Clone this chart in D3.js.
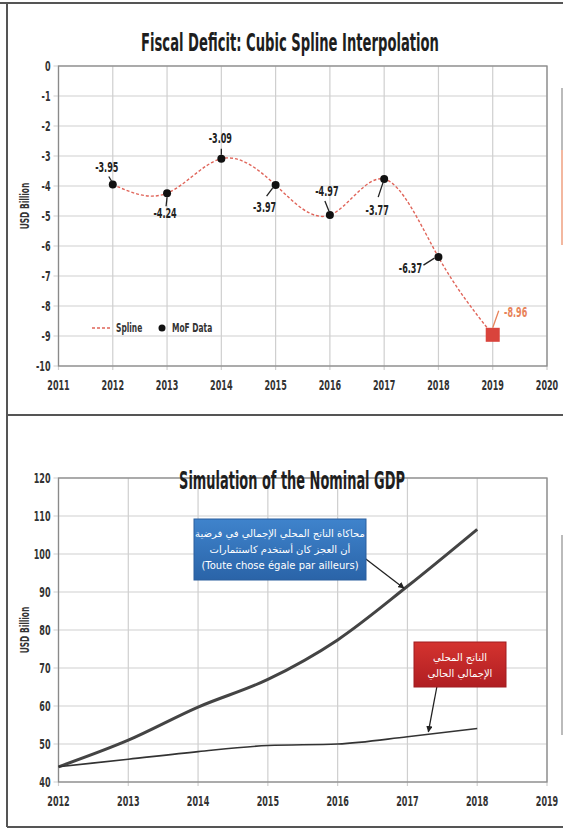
<!DOCTYPE html>
<html>
<head>
<meta charset="utf-8">
<script src="https://cdn.jsdelivr.net/npm/d3@7"></script>
<style>
  body { margin: 0; background: #fff; }
  text { font-family: "DejaVu Sans Condensed", "DejaVu Sans", sans-serif; }
</style>
</head>
<body>
<script>
// ---- data ----
var deficitYears = [2012, 2013, 2014, 2015, 2016, 2017, 2018, 2019]
var deficitValues = [-3.95, -4.24, -3.09, -3.97, -4.97, -3.77, -6.37, -8.96]
var deficitTicks = [0, -1, -2, -3, -4, -5, -6, -7, -8, -9, -10]
var deficitYearTicks = [2011, 2012, 2013, 2014, 2015, 2016, 2017, 2018, 2019, 2020]

var gdpYears = [2012, 2013, 2014, 2015, 2016, 2017, 2018]
var gdpSimulated = [44, 51, 59.7, 67, 77.4, 91.5, 106.5]
var gdpCurrent = [44, 46, 48, 49.6, 50, 51.9, 54.1]
var gdpTicks = [40, 50, 60, 70, 80, 90, 100, 110, 120]
var gdpYearTicks = [2012, 2013, 2014, 2015, 2016, 2017, 2018, 2019]

// label offsets (px) for the deficit call-outs: [labelDx, labelDy, lineDx1, lineDy1, lineDx2, lineDy2]
var labelOffsets = [
  [-6, -18, -4, -8, -1, -3],
  [-2, 20, -1, 13, 0, 4],
  [-1, -21, 0, -10, 0, -4],
  [-11, 22, -9, 11, -3, 3],
  [-3, -24, -5, -14, -1, -4],
  [-7, 31, -6, 18, -1, 3],
  [-28, 11, -15, 8, -4, 1],
  [23, -23, 6, -24, 0, -7]
]

var W = 563, H = 829
var SX = 0.64   // horizontal squeeze to mimic the condensed face
var svg = d3.select("body").append("svg")
  .attr("width", W).attr("height", H)

// condensed text helper
function ctext(parent, x, y, str, size, anchor, fill) {
  return parent.append("text")
    .attr("transform", "translate(" + x + "," + y + ")scale(" + SX + ",1)")
    .attr("text-anchor", anchor).attr("font-size", size).attr("fill", fill)
    .attr("font-weight", "bold")
    .text(str)
}
// title squeezed to a target width
function title(x, y, str, w) {
  var t = svg.append("text").attr("text-anchor", "middle")
    .attr("font-size", 25).attr("font-weight", "bold").attr("fill", "#1e1e1e")
    .text(str)
  var s = w / t.node().getComputedTextLength()
  t.attr("transform", "translate(" + x + "," + y + ")scale(" + s + ",1)")
}

// frame
svg.append("line").attr("x1", 0).attr("x2", W).attr("y1", 3).attr("y2", 3)
  .attr("stroke", "#555").attr("stroke-width", 2)
svg.append("line").attr("x1", 7).attr("x2", 7).attr("y1", 3).attr("y2", 827)
  .attr("stroke", "#555").attr("stroke-width", 2)
svg.append("line").attr("x1", 7).attr("x2", W).attr("y1", 415).attr("y2", 415)
  .attr("stroke", "#555").attr("stroke-width", 2)
svg.append("line").attr("x1", 7).attr("x2", W).attr("y1", 827).attr("y2", 827)
  .attr("stroke", "#555").attr("stroke-width", 2)

// clipped side strips at the right edge (source notes cut by the photo)
svg.append("rect").attr("x", 561).attr("y", 88).attr("width", 2).attr("height", 62).attr("fill", "#bbb")
svg.append("rect").attr("x", 561).attr("y", 150).attr("width", 2).attr("height", 95).attr("fill", "#f3b8a0")
svg.append("rect").attr("x", 561).attr("y", 535).attr("width", 2).attr("height", 200).attr("fill", "#bbb")

var defs = svg.append("defs")
defs.append("marker").attr("id", "arrow")
  .attr("viewBox", "0 0 10 10").attr("refX", 9).attr("refY", 5)
  .attr("markerWidth", 5).attr("markerHeight", 5).attr("orient", "auto")
  .append("path").attr("d", "M0,0L10,5L0,10z").attr("fill", "#222")
var gBlue = defs.append("linearGradient").attr("id", "blueg").attr("x1", 0).attr("y1", 0).attr("x2", 0).attr("y2", 1)
gBlue.append("stop").attr("offset", "0%").attr("stop-color", "#3f83cc")
gBlue.append("stop").attr("offset", "100%").attr("stop-color", "#2a64a8")
var gRed = defs.append("linearGradient").attr("id", "redg").attr("x1", 0).attr("y1", 0).attr("x2", 0).attr("y2", 1)
gRed.append("stop").attr("offset", "0%").attr("stop-color", "#d4332f")
gRed.append("stop").attr("offset", "100%").attr("stop-color", "#b01e22")

function drawFrame(x, y, xt, yt) {
  var g = svg.append("g")
  var x0 = x.range()[0], x1 = x.range()[1], y0 = y.range()[0], y1 = y.range()[1]
  g.selectAll("vgrid").data(xt).enter().append("line")
    .attr("x1", function(d) { return x(d) }).attr("x2", function(d) { return x(d) })
    .attr("y1", y1).attr("y2", y0 + 4)
    .attr("stroke", "#cfcfcf").attr("stroke-width", 1.2)
  g.selectAll("hgrid").data(yt).enter().append("line")
    .attr("x1", x0 - 5).attr("x2", x1)
    .attr("y1", function(d) { return y(d) }).attr("y2", function(d) { return y(d) })
    .attr("stroke", "#cfcfcf").attr("stroke-width", 1.2)
  g.append("rect").attr("x", x0).attr("y", y1).attr("width", x1 - x0).attr("height", y0 - y1)
    .attr("fill", "none").attr("stroke", "#8a8a8a").attr("stroke-width", 1.3)
  yt.forEach(function(d) { ctext(g, x0 - 8, y(d) + 5, d, 14, "end", "#333") })
  xt.forEach(function(d) { ctext(g, x(d), y0 + 24, d, 14, "middle", "#333") })
  return g
}

// ---------- top chart ----------
var x1 = d3.scaleLinear().domain([2011, 2020]).range([58.5, 547])
var y1 = d3.scaleLinear().domain([-10, 0]).range([366, 66])
drawFrame(x1, y1, deficitYearTicks, deficitTicks)

title(290, 51, "Fiscal Deficit: Cubic Spline Interpolation", 298)
ctext(svg.append("g").attr("transform", "translate(29,206)rotate(-90)"), 0, 0, "USD Billion", 13, "middle", "#333")

var pts = deficitYears.map(function(d, i) { return [d, deficitValues[i]] })
var spline = d3.line().x(function(d) { return x1(d[0]) }).y(function(d) { return y1(d[1]) })
  .curve(d3.curveNatural)
svg.append("path").attr("d", spline(pts))
  .attr("fill", "none").attr("stroke", "#e0655a").attr("stroke-width", 1.4)
  .attr("stroke-dasharray", "3,2")

var last = pts.length - 1
svg.selectAll("mofdots").data(pts.slice(0, last)).enter().append("circle")
  .attr("cx", function(d) { return x1(d[0]) }).attr("cy", function(d) { return y1(d[1]) })
  .attr("r", 4).attr("fill", "#111")
svg.append("rect")
  .attr("x", x1(pts[last][0]) - 7).attr("y", y1(pts[last][1]) - 7)
  .attr("width", 14).attr("height", 14).attr("fill", "#d9443c")

pts.forEach(function(d, i) {
  var o = labelOffsets[i], px = x1(d[0]), py = y1(d[1])
  var red = i === last
  svg.append("line").attr("x1", px + o[2]).attr("y1", py + o[3])
    .attr("x2", px + o[4]).attr("y2", py + o[5])
    .attr("stroke", red ? "#e8835a" : "#222").attr("stroke-width", 1.3)
  ctext(svg, px + o[0], py + o[1] + 5, d[1].toFixed(2), 14, "middle", red ? "#e8835a" : "#222")
})

// legend
var lg = svg.append("g").attr("transform", "translate(92,328)")
lg.append("line").attr("x1", 0).attr("x2", 20).attr("y1", 0).attr("y2", 0)
  .attr("stroke", "#e0655a").attr("stroke-width", 1.4).attr("stroke-dasharray", "3,2")
ctext(lg, 24, 4, "Spline", 13, "start", "#333")
lg.append("circle").attr("cx", 70).attr("cy", 0).attr("r", 3.5).attr("fill", "#111")
ctext(lg, 80, 4, "MoF Data", 13, "start", "#333")

// ---------- bottom chart ----------
var x2 = d3.scaleLinear().domain([2012, 2019]).range([58.5, 547])
var y2 = d3.scaleLinear().domain([40, 120]).range([782, 478])
drawFrame(x2, y2, gdpYearTicks, gdpTicks)

title(292, 489, "Simulation of the Nominal GDP", 226)
ctext(svg.append("g").attr("transform", "translate(29,630)rotate(-90)"), 0, 0, "USD Billion", 13, "middle", "#333")

var gdpLine = d3.line().x(function(d) { return x2(d[0]) }).y(function(d) { return y2(d[1]) })
  .curve(d3.curveMonotoneX)
svg.append("path").attr("d", gdpLine(gdpYears.map(function(d, i) { return [d, gdpSimulated[i]] })))
  .attr("fill", "none").attr("stroke", "#444").attr("stroke-width", 3)
svg.append("path").attr("d", gdpLine(gdpYears.map(function(d, i) { return [d, gdpCurrent[i]] })))
  .attr("fill", "none").attr("stroke", "#333").attr("stroke-width", 1.6)

// blue call-out
svg.append("line").attr("x1", 358).attr("y1", 553).attr("x2", x2(2016.95)).attr("y2", y2(91))
  .attr("stroke", "#222").attr("stroke-width", 1.3).attr("marker-end", "url(#arrow)")
svg.append("rect").attr("x", 194).attr("y", 519).attr("width", 172).attr("height", 61)
  .attr("fill", "url(#blueg)").attr("stroke", "#2a5f9e")
var blueText = ["محاكاة الناتج المحلي الإجمالي في فرضية", "أن العجز كان أستخدم كاستثمارات", "(Toute chose égale par ailleurs)"]
svg.selectAll("bluetxt").data(blueText).enter().append("text")
  .attr("x", 280).attr("y", function(d, i) { return 537 + i * 16 })
  .attr("text-anchor", "middle").attr("font-size", 10).attr("fill", "#fff")
  .style("font-family", "'DejaVu Sans', 'Noto Sans', sans-serif")
  .text(function(d) { return d })

// red call-out
svg.append("line").attr("x1", 437).attr("y1", 686).attr("x2", x2(2017.3)).attr("y2", y2(53.2))
  .attr("stroke", "#222").attr("stroke-width", 1.3).attr("marker-end", "url(#arrow)")
svg.append("rect").attr("x", 414).attr("y", 642).attr("width", 92).attr("height", 45)
  .attr("fill", "url(#redg)").attr("stroke", "#a01c20")
var redText = ["الناتج المحلي", "الإجمالي الحالي"]
svg.selectAll("redtxt").data(redText).enter().append("text")
  .attr("x", 460).attr("y", function(d, i) { return 661 + i * 16 })
  .attr("text-anchor", "middle").attr("font-size", 10).attr("fill", "#fff")
  .style("font-family", "'DejaVu Sans', 'Noto Sans', sans-serif")
  .text(function(d) { return d })
</script>
</body>
</html>
